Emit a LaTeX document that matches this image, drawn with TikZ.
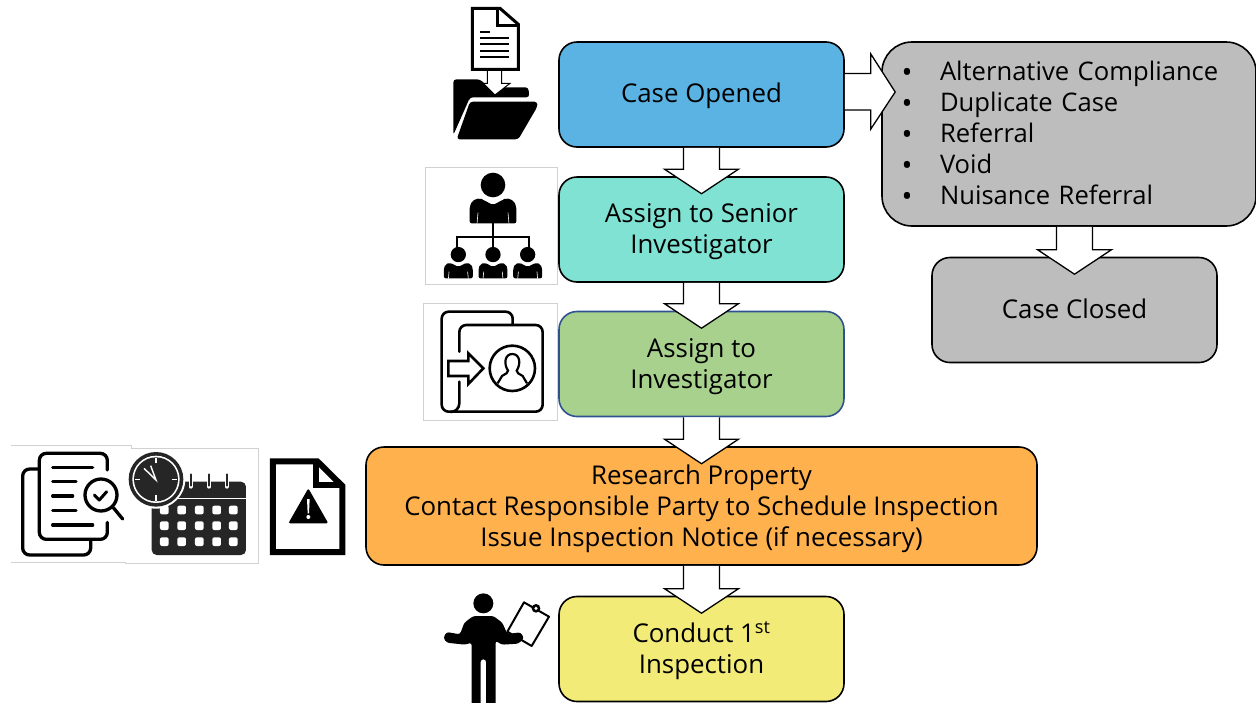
\documentclass[tikz,border=0pt]{standalone}
\usepackage{fontspec}
\setmainfont{Open Sans}
\usetikzlibrary{calc}

\definecolor{openblue}{HTML}{5BB3E4}
\definecolor{seniorteal}{HTML}{80E2D2}
\definecolor{investgreen}{HTML}{A9D18E}
\definecolor{researchorange}{HTML}{FFB14E}
\definecolor{conductyellow}{HTML}{F3EB78}
\definecolor{closedgrey}{HTML}{BDBDBD}
\definecolor{linkblue}{HTML}{2F528F}

\tikzset{
  casebox/.style={draw, line width=1.6, rounded corners=18, minimum height=105, minimum width=285, align=center, font=\fontsize{25.85}{31}\selectfont},
  blockarrow/.style={draw, fill=white, line width=1.3, line join=miter},
  iconframe/.style={draw=black!18, fill=white, line width=0.8},
  iconline/.style={line width=2.6, line cap=round, line join=round},
  personfig/.pic={
    \fill (0,-115) circle (37);
    \fill[rounded corners=2] (-70,0) -- (-70,-50) -- (-62,-68) -- (-40,-76) -- (0,-55) -- (40,-76) -- (62,-68) -- (70,-50) -- (70,0) -- cycle;
    \draw[white, line width=0.6] (-48,1) -- (-45,-32) (48,1) -- (45,-32);
  }
}

\newcommand{\blockdown}[2]{
  \draw[blockarrow] ($(#1.south -| #2.north)+(-18,0)$) -- ($(#2.north)+(-18,-7)$) -- ($(#2.north)+(-37,-7)$)
    -- ($(#2.north)+(0,17.5)$) -- ($(#2.north)+(37,-7)$) -- ($(#2.north)+(18,-7)$) -- ($(#1.south -| #2.north)+(18,0)$);
}
\newcommand{\bulletitem}[1]{\makebox[38pt][l]{\hspace*{-0.5pt}\raisebox{-1.5pt}{\fontsize{29}{31}\selectfont •}}#1}
\newcommand{\firstline}[1]{\rule{0pt}{#1pt}}
\newcommand{\lastline}[1]{\rule[-#1pt]{0pt}{0pt}}

\begin{document}
\begin{tikzpicture}[x=1pt,y=-1pt]
  \useasboundingbox (0,0) rectangle (1256,702);

  % icon frames
  \path[iconframe] (11,445) -- (131,445) -- (131,448) -- (258.5,448) -- (258.5,563) -- (125,563) -- (125,562) -- (11,562);
  \path[iconframe] (425,167) rectangle (557,284);
  \path[iconframe] (423,303) rectangle (557,420);

  % main boxes
  \node[casebox, fill=openblue] (opened) at (701.5,94.5) {\firstline{22}Case Opened};
  \node[casebox, fill=seniorteal] (senior) at (701.5,229.5) {\firstline{24}Assign to Senior\\Investigator};
  \node[casebox, fill=investgreen, draw=linkblue] (investigator) at (701.5,364) {\firstline{24}Assign to\\Investigator};
  \node[casebox, fill=researchorange, minimum width=671, minimum height=118] (research) at (701.5,506)
    {\firstline{26}Research Property\\Contact Responsible Party to Schedule Inspection\\Issue Inspection Notice (if necessary)};
  \node[casebox, fill=conductyellow] (conduct) at (701.5,649) {\firstline{24}Conduct 1\textsuperscript{st}\\Inspection};

  % closing boxes
  \node[casebox, fill=closedgrey, rounded corners=30, minimum height=184, text width=334, inner xsep=20, align=left, font=\fontsize{25.6}{31}\selectfont] (reasons) at (1069,134)
    {\bulletitem{Alternative Compliance}\\\bulletitem{Duplicate Case}\\\bulletitem{Referral}\\\bulletitem{Void}\\\bulletitem{Nuisance Referral}\lastline{2}};
  \node[casebox, fill=closedgrey] (closed) at (1074.5,310) {Case Closed\lastline{2}};

  % block arrows
  \blockdown{opened}{senior}
  \blockdown{senior}{investigator}
  \blockdown{investigator}{research}
  \blockdown{research}{conduct}
  \blockdown{reasons}{closed}
  \draw[blockarrow] ($(opened.east)+(0,-21)$) -- ($(opened.east)+(26,-21)$) -- ($(opened.east)+(26,-40.5)$)
    -- ($(opened.east -| reasons.west)+(14,-2.5)$) -- ($(opened.east)+(26,34.5)$) -- ($(opened.east)+(26,15.5)$) -- ($(opened.east)+(0,15.5)$);

  % document dropped in folder
  \begin{scope}[shift={(420,0)},scale=1/3]
    \fill[rounded corners=3] (100,405) -- (100,238) -- (180,238) -- (205,262) -- (325,262) -- (328,292) -- (150,292) -- cycle;
    \fill[rounded corners=3] (150,305) -- (352,305) -- (352,320) -- (295,418) -- (110,418) -- cycle;
    \draw[fill=white, line width=1] (202,205) -- (202,250) -- (190,250) -- (225,285) -- (270,250) -- (245,250) -- (245,205);
    \draw[fill=white, line width=3, line join=miter] (157,25) -- (240,25) -- (295,73) -- (295,208) -- (157,208) -- cycle;
    \draw[line width=3, line join=miter] (232,25) -- (232,75) -- (295,75);
    \draw[line width=2.2] (180,95) -- (210,95);
    \foreach \ypos in {113,133,152,171}
      \draw[line width=2.2] (180,\ypos) -- (268,\ypos);
  \end{scope}

  % person with team
  \begin{scope}[shift={(420,160)},scale=1/3]
    \pic[transform shape] at (219,190) {personfig};
    \draw[line width=2] (219,190) -- (219,265);
    \draw[line width=2] (112,265) -- (112,232) -- (327,232) -- (327,265);
    \foreach \xpos in {115,219,323}
      \pic[transform shape, scale=0.62] at (\xpos,355) {personfig};
  \end{scope}

  % folder with arrow to person
  \begin{scope}[shift={(420,160)},scale=1/3]
    \draw[iconline, rounded corners=7] (278,495) -- (278,455) -- (65,455) -- (65,755) -- (368,755) -- (368,495) -- (118,495) -- (118,575);
    \draw[iconline] (118,665) -- (118,730) arc (0:90:26);
    \draw[iconline, line join=miter] (85,603) -- (145,603) -- (145,580) -- (190,625) -- (145,672) -- (145,648) -- (85,648) -- cycle;
    \draw[iconline] (277,625) circle (68);
    \draw[line width=2.2] (233,670) -- (246,648) .. controls (258,640) and (264,640) .. (264,632) .. controls (250,610) and (255,582) .. (277,582) .. controls (299,582) and (304,610) .. (290,632) .. controls (290,640) and (296,640) .. (308,648) -- (321,670);
  \end{scope}

  % papers with magnifier
  \begin{scope}[shift={(0,435)},scale=1/3]
    \draw[line width=3.3, line cap=round, rounded corners=7] (322,105) -- (322,55) -- (118,55) -- (118,313) -- (322,313) -- (322,262);
    \draw[line width=3.3, line cap=round, rounded corners=7] (115,102) -- (68,102) -- (68,360) -- (272,360) -- (272,315);
    \foreach \ypos/\xend in {97/278,140/228,183/218,226/228,270/278}
      \draw[line width=3.3, line cap=round] (158,\ypos) -- (\xend,\ypos);
    \draw[line width=3.3, fill=white] (303,180) circle (48);
    \draw[line width=3.3, line cap=round] (340,218) -- (368,252);
    \draw[line width=3, line cap=round, line join=round] (283,180) -- (298,195) -- (320,170);
  \end{scope}

  % calendar with clock
  \begin{scope}[shift={(0,435)},scale=1/3]
    \fill[black!85, rounded corners=5] (455,140) rectangle (738,360);
    \fill[white] (455,190) rectangle (738,193);
    \foreach \xpos in {572,627,680} {
      \draw[white, line width=4, line cap=round] (\xpos,118) -- (\xpos,155);
      \draw[black!85, line width=2, line cap=round] (\xpos,118) -- (\xpos,152);
    }
    \foreach \ypos in {225,272,320}
      \foreach \xpos in {493,545,598,650,700}
        \fill[white, rounded corners=2] (\xpos-13,\ypos-13) rectangle (\xpos+13,\ypos+13);
    \fill[white] (468,133) circle (88);
    \fill[black!85] (468,133) circle (82);
    \fill[white] (468,133) circle (71);
    \fill[black!85] (468,133) circle (66);
    \foreach \angle in {0,90,180,270}
      \draw[white, line width=1.2] (468,133) ++(\angle:48) -- ++(\angle:16);
    \draw[white, line width=1.4] (432,100) -- (468,135) -- (452,92);
  \end{scope}

  % document with warning
  \begin{scope}[shift={(0,435)},scale=1/3]
    \draw[line width=6, line join=miter, fill=white] (819,79) -- (952,79) -- (1027,153) -- (1027,351) -- (819,351) -- cycle;
    \draw[line width=6, line join=miter] (948,85) -- (948,151) -- (1020,151);
    \fill[rounded corners=2] (925,160) -- (985,265) -- (865,265) -- cycle;
    \fill[white] (921,192) -- (929,192) -- (927,235) -- (923,235) -- cycle;
    \fill[white] (925,246) circle (6);
  \end{scope}

  % inspector with clipboard
  \begin{scope}[shift={(430,570)},scale=1/3]
    \draw[line width=2, fill=white, line join=round] (282,97) -- (357,140) -- (305,228) -- (232,185) -- cycle;
    \fill (318,115) circle (13);
    \fill[white] (318,115) circle (5);
    \fill (160,100) circle (30);
    \fill[rounded corners=2.5] (125,410) -- (125,218) -- (105,224) -- (50,218) -- (40,203) -- (50,186) -- (90,193) -- (103,158) -- (130,138) -- (190,138) -- (217,158) -- (232,192) -- (272,187) -- (282,205) -- (265,221) -- (215,224) -- (197,212) -- (197,410) -- (168,410) -- (168,268) -- (152,268) -- (152,410) -- cycle;
  \end{scope}
\end{tikzpicture}
\end{document}
